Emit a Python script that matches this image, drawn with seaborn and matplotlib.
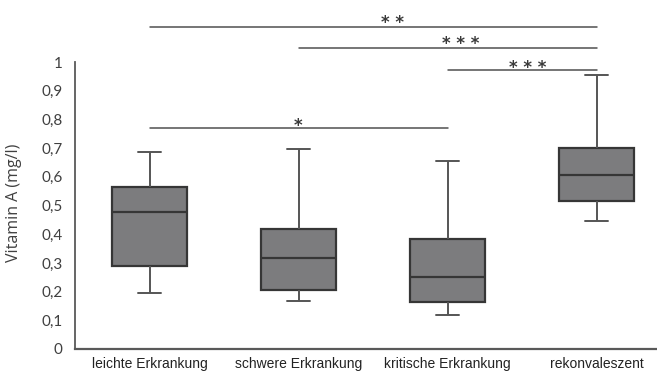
import matplotlib
matplotlib.use("Agg")
import matplotlib.pyplot as plt
import seaborn as sns
import pandas as pd

# Group names and five-number summaries (min, Q1, median, Q3, max) in mg/l
groups = ["leichte Erkrankung", "schwere Erkrankung", "kritische Erkrankung", "rekonvaleszent"]
whisker_low = [0.195, 0.167, 0.118, 0.446]
q1 = [0.289, 0.207, 0.164, 0.514]
median = [0.477, 0.317, 0.251, 0.606]
q3 = [0.564, 0.418, 0.383, 0.700]
whisker_high = [0.686, 0.697, 0.655, 0.955]

# Significance brackets: (from group, to group, line level, label)
sig_from = [0, 1, 2, 0]
sig_to = [3, 3, 3, 2]
sig_level = [1.122, 1.049, 0.972, 0.770]
sig_label = ["* *", "* * *", "* * *", "*"]
sig_text_x = [1.63, 2.09, 2.54, 1.0]
sig_text_y = [1.153, 1.080, 0.997, 0.794]

yticks = [0, 0.1, 0.2, 0.3, 0.4, 0.5, 0.6, 0.7, 0.8, 0.9, 1.0]
ytick_labels = ["0", "0,1", "0,2", "0,3", "0,4", "0,5", "0,6", "0,7", "0,8", "0,9", "1"]

rows = []
for g, lo, a, m, b, hi in zip(groups, whisker_low, q1, median, q3, whisker_high):
    for v in (lo, a, m, b, hi):
        rows.append({"Gruppe": g, "Vitamin A": v})
df = pd.DataFrame(rows)

sns.set_theme(style="white")
fig = plt.figure(figsize=(6.57, 3.74), dpi=100)
ax = fig.add_axes([75 / 657, 25 / 374, 582 / 657, 349 / 374])

edge = "#363636"
line_c = "#555555"
sns.boxplot(
    data=df, x="Gruppe", y="Vitamin A", order=groups, ax=ax,
    whis=(0, 100), width=0.5, color="#7c7c7e", saturation=1,
    boxprops=dict(edgecolor=edge, linewidth=1.6),
    medianprops=dict(color=edge, linewidth=1.6),
    whiskerprops=dict(color=line_c, linewidth=1.4),
    capprops=dict(color=line_c, linewidth=1.4),
    showfliers=False,
)

# Short whisker caps
cap_half = 0.075
for cont in ax.containers:
    for cap in getattr(cont, "caps", []):
        xs = cap.get_xdata()
        c = (xs[0] + xs[-1]) / 2
        cap.set_xdata([c - cap_half, c + cap_half])

ax.set_xlim(-0.5, 3.406)
ax.set_ylim(0, 349 / 287)
ax.set_yticks(yticks)
ax.set_yticklabels(ytick_labels, fontsize=11, family="Lato", color="#404040")
ax.set_xticks(range(len(groups)))
ax.set_xticklabels(groups, fontsize=10, family="Liberation Sans", color="#222222")
ax.tick_params(axis="y", length=0, pad=9)
ax.tick_params(axis="x", length=0, pad=6)
ax.set_xlabel("")
ax.set_ylabel("Vitamin A (mg/l)", fontsize=11.5, family="Open Sans", color="#404040")
ax.yaxis.set_label_coords(-53 / 582, 0.42)

for s in ["top", "right"]:
    ax.spines[s].set_visible(False)
ax.spines["left"].set_bounds(0, 1)
ax.spines["left"].set_color("#595959")
ax.spines["left"].set_linewidth(1.3)
ax.spines["bottom"].set_color("#595959")
ax.spines["bottom"].set_linewidth(1.6)

for a, b, lvl, lab, tx, ty in zip(sig_from, sig_to, sig_level, sig_label, sig_text_x, sig_text_y):
    ax.plot([a, b], [lvl, lvl], color="#505050", linewidth=1.1, clip_on=False)
    ax.text(tx, ty - 0.035, lab, ha="center", va="baseline", fontsize=12,
            family="DejaVu Sans", fontweight="bold", color="#3a3a3a")

fig.savefig("out.png", dpi=100)
